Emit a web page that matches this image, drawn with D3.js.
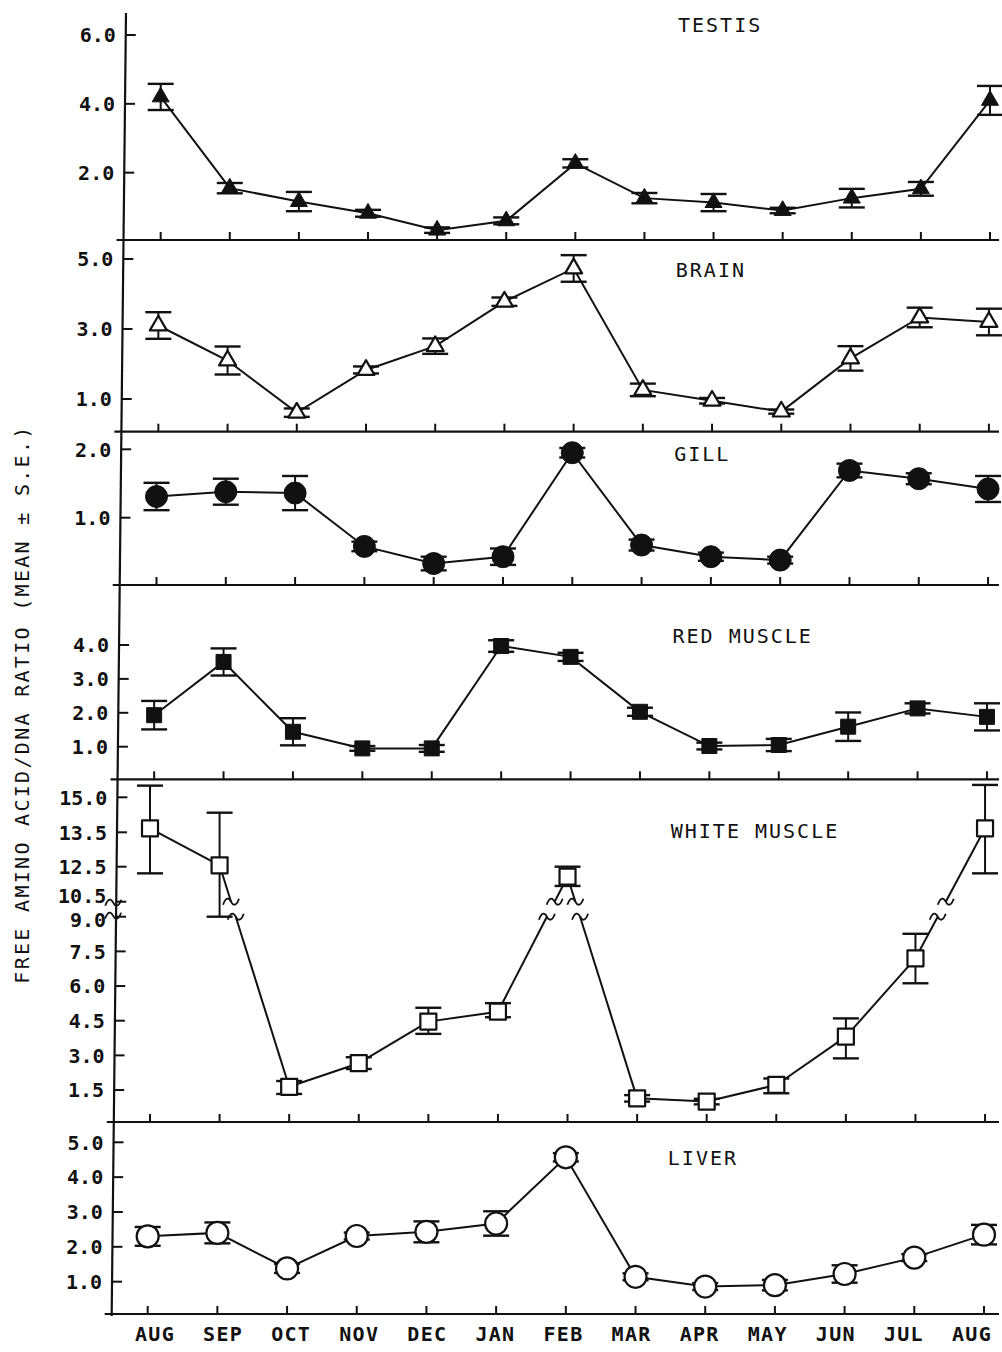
<!DOCTYPE html>
<html><head><meta charset="utf-8">
<script src="https://cdn.jsdelivr.net/npm/d3@7"></script>
<style>body{margin:0;background:#fff}svg{display:block}</style>
</head><body>
<svg id="chart" width="1002" height="1352"></svg>
<script>
// ---------- DATA ----------
const months = ["AUG","SEP","OCT","NOV","DEC","JAN","FEB","MAR","APR","MAY","JUN","JUL","AUG"];

const testisMean = [4.2, 1.55, 1.16, 0.82, 0.33, 0.6, 2.27, 1.26, 1.13, 0.9, 1.26, 1.53, 4.1];
const testisSE   = [0.38, 0.15, 0.28, 0.1, 0.08, 0.1, 0.12, 0.15, 0.25, 0.08, 0.27, 0.2, 0.42];

const brainMean = [3.1, 2.1, 0.61, 1.83, 2.51, 3.78, 4.73, 1.26, 0.95, 0.64, 2.16, 3.33, 3.2];
const brainSE   = [0.38, 0.4, 0.12, 0.1, 0.22, 0.12, 0.38, 0.18, 0.08, 0.06, 0.35, 0.28, 0.38];

const gillMean = [1.31, 1.38, 1.36, 0.58, 0.33, 0.43, 1.95, 0.6, 0.43, 0.38, 1.69, 1.57, 1.42];
const gillSE   = [0.2, 0.19, 0.25, 0.07, 0.1, 0.12, 0.07, 0.08, 0.06, 0.05, 0.1, 0.08, 0.19];

const redMean = [1.93, 3.5, 1.44, 0.95, 0.95, 3.97, 3.65, 2.03, 1.02, 1.05, 1.59, 2.13, 1.88];
const redSE   = [0.42, 0.4, 0.4, 0.07, 0.1, 0.17, 0.12, 0.12, 0.1, 0.18, 0.42, 0.15, 0.4];

const whiteMean = [13.67, 12.54, 1.64, 2.66, 4.46, 4.89, 11.93, 1.14, 1.0, 1.72, 3.81, 7.2, 13.67];
const whiteLow  = [12.12, 9.0, 1.33, 2.41, 3.93, 4.65, 11.4, 1.0, 0.88, 1.36, 2.87, 6.12, 12.12];
const whiteHigh = [15.5, 14.34, 1.89, 2.92, 5.06, 5.26, 12.5, 1.28, 1.12, 2.0, 4.6, 8.26, 15.53];

const liverMean = [2.30, 2.40, 1.38, 2.31, 2.43, 2.67, 4.57, 1.14, 0.86, 0.9, 1.22, 1.69, 2.35];
const liverSE   = [0.27, 0.3, 0.13, 0.1, 0.3, 0.35, 0.12, 0.1, 0.1, 0.15, 0.25, 0.1, 0.28];

const testisTicks = [2, 4, 6];
const brainTicks  = [1, 3, 5];
const gillTicks   = [1, 2];
const redTicks    = [1, 2, 3, 4];
const whiteTicks  = [1.5, 3, 4.5, 6, 7.5, 9, 10.5, 12.5, 13.5, 15];
const liverTicks  = [1, 2, 3, 4, 5];

const yAxisTitle = "FREE AMINO ACID/DNA RATIO (MEAN \u00B1 S.E.)";

// ---------- LAYOUT ----------
const panels = [
  {title:"TESTIS", mean:testisMean, se:testisSE, ticks:testisTicks, axisY:240, domain:[0,6], range:[241.5,35], marker:"tri", filled:true, titleY:32},
  {title:"BRAIN", mean:brainMean, se:brainSE, ticks:brainTicks, axisY:431.7, domain:[0,5], range:[434,259], marker:"tri", filled:false, titleY:277},
  {title:"GILL", mean:gillMean, se:gillSE, ticks:gillTicks, axisY:585, domain:[0,2], range:[586.1,449.3], marker:"circle", filled:true, titleY:461},
  {title:"RED MUSCLE", mean:redMean, se:redSE, ticks:redTicks, axisY:779.3, domain:[0,4], range:[780.6,645], marker:"square", filled:true, titleY:643},
  {title:"WHITE MUSCLE", mean:whiteMean, low:whiteLow, high:whiteHigh, ticks:whiteTicks, axisY:1122,
    domain:[0,9,10.5,12.5,13.5,15], range:[1124.7,916.7,901.7,866.7,832.3,797.3], marker:"square", filled:false, titleY:838, broken:true},
  {title:"LIVER", mean:liverMean, se:liverSE, ticks:liverTicks, axisY:1314, domain:[0,5], range:[1316.5,1142.3], marker:"circle", filled:false, titleY:1165}
];
// small vertical nudges of crowded tick labels at the axis break
const labelNudge = {"10.5": -6, "9.0": 3};

const ink = "#111";
const svg = d3.select("#chart");
const fmt = d3.format(".1f");
const mono = "'DejaVu Sans Mono', 'Liberation Mono', monospace";

// slight skew of the scanned figure
const xAxisAt = y => 126 - 0.011 * (y - 13);
const xStartAt = y => 160.7 - 0.0121 * (y - 238);
const xEndAt = y => 990 - 0.0056 * (y - 238);

// vertical axis line
svg.append("line").attr("x1", xAxisAt(13)).attr("y1", 13).attr("x2", xAxisAt(1316)).attr("y2", 1316)
  .attr("stroke", ink).attr("stroke-width", 2.2);

function squiggle(g, x, y) {
  g.append("path")
    .attr("d", `M${x-8},${y+3} C${x-5},${y-5} ${x-2},${y-4} ${x},${y} S${x+5},${y+5} ${x+8},${y-3}`)
    .attr("fill", "none").attr("stroke", ink).attr("stroke-width", 1.8);
}

panels.forEach(p => {
  const g = svg.append("g");
  const x = d3.scalePoint().domain(d3.range(months.length)).range([xStartAt(p.axisY), xEndAt(p.axisY)]);
  const y = d3.scaleLinear().domain(p.domain).range(p.range);

  // bottom axis line
  g.append("line").attr("x1", xAxisAt(p.axisY) - 7).attr("x2", 999)
    .attr("y1", p.axisY).attr("y2", p.axisY).attr("stroke", ink).attr("stroke-width", 2.2);
  // month ticks (inward)
  g.selectAll(".xt").data(d3.range(months.length)).join("line")
    .attr("x1", d => x(d)).attr("x2", d => x(d))
    .attr("y1", p.axisY).attr("y2", p.axisY - 8)
    .attr("stroke", ink).attr("stroke-width", 2);

  // y ticks
  p.ticks.forEach(t => {
    const ty = y(t), ax = xAxisAt(ty);
    g.append("line").attr("x1", ax).attr("x2", ax + 10).attr("y1", ty).attr("y2", ty)
      .attr("stroke", ink).attr("stroke-width", 2);
    g.append("text").attr("x", ax - 10).attr("y", ty + (labelNudge[fmt(t)] || 0)).attr("dy", "0.36em")
      .attr("text-anchor", "end").attr("font-family", mono).attr("font-size", 20)
      .attr("font-weight", "bold").attr("letter-spacing", 0).attr("fill", ink)
      .text(fmt(t));
  });

  // title
  g.append("text").attr("x", 678 - 0.009 * (p.titleY - 32)).attr("y", p.titleY)
    .attr("font-family", mono).attr("font-size", 20).attr("letter-spacing", 2)
    .attr("fill", ink).text(p.title);

  const idx = d3.range(p.mean.length);
  const lo = i => p.low ? p.low[i] : p.mean[i] - p.se[i];
  const hi = i => p.high ? p.high[i] : p.mean[i] + p.se[i];

  // error bars
  const cap = 26;
  idx.forEach(i => {
    const cx = x(i), y1 = y(hi(i)), y2 = y(lo(i));
    g.append("line").attr("x1", cx).attr("x2", cx).attr("y1", y1).attr("y2", y2)
      .attr("stroke", ink).attr("stroke-width", 2);
    [y1, y2].forEach(yy => g.append("line").attr("x1", cx - cap/2).attr("x2", cx + cap/2)
      .attr("y1", yy).attr("y2", yy).attr("stroke", ink).attr("stroke-width", 2.4));
  });

  // connecting line
  if (!p.broken) {
    g.append("path").datum(idx)
      .attr("d", d3.line().x(i => x(i)).y(i => y(p.mean[i])))
      .attr("fill", "none").attr("stroke", ink).attr("stroke-width", 2);
  } else {
    const bTop = y(10.5), bBot = y(9.0);
    // axis break marks
    squiggle(g, xAxisAt(bTop) - 3, bTop + 1);
    squiggle(g, xAxisAt(bBot) - 3, bBot - 1);
    for (let i = 0; i < idx.length - 1; i++) {
      const x1 = x(i), y1 = y(p.mean[i]), x2 = x(i + 1), y2 = y(p.mean[i + 1]);
      if (Math.min(y1, y2) < bTop && Math.max(y1, y2) > bBot) {
        const at = yy => x1 + (x2 - x1) * (yy - y1) / (y2 - y1);
        const up = y1 < y2 ? [x1, y1] : [x2, y2];
        const dn = y1 < y2 ? [x2, y2] : [x1, y1];
        const xt = at(bTop), xb = at(bBot);
        g.append("line").attr("x1", up[0]).attr("y1", up[1]).attr("x2", xt).attr("y2", bTop)
          .attr("stroke", ink).attr("stroke-width", 2);
        g.append("line").attr("x1", xb).attr("y1", bBot).attr("x2", dn[0]).attr("y2", dn[1])
          .attr("stroke", ink).attr("stroke-width", 2);
        squiggle(g, xt, bTop);
        squiggle(g, xb, bBot);
      } else {
        g.append("line").attr("x1", x1).attr("y1", y1).attr("x2", x2).attr("y2", y2)
          .attr("stroke", ink).attr("stroke-width", 2);
      }
    }
  }

  // markers
  const sym = p.marker === "tri" ? d3.symbolTriangle : p.marker === "square" ? d3.symbolSquare : d3.symbolCircle;
  const size = p.marker === "tri" ? 125 : p.marker === "square" ? (p.filled ? 225 : 256) : Math.PI * 11 * 11;
  g.selectAll(".m").data(idx).join("path")
    .attr("transform", i => `translate(${x(i)},${y(p.mean[i])})`)
    .attr("d", d3.symbol(sym, size))
    .attr("fill", p.filled ? ink : "#fff")
    .attr("stroke", ink).attr("stroke-width", p.filled ? 1 : 2.2)
    .attr("stroke-linejoin", "round");
});

// month labels
const xl = d3.scalePoint().domain(d3.range(months.length)).range([155, 972]);
svg.selectAll(".ml").data(months).join("text")
  .attr("x", (d, i) => xl(i)).attr("y", 1341).attr("text-anchor", "middle")
  .attr("font-family", mono).attr("font-size", 20).attr("font-weight", "bold").attr("letter-spacing", 1.3)
  .attr("fill", ink).text(d => d);

// y axis title
svg.append("text").attr("transform", "translate(29,704) rotate(-90)")
  .attr("text-anchor", "middle").attr("font-family", mono).attr("font-size", 20)
  .attr("letter-spacing", 2.3).attr("fill", ink).text(yAxisTitle);
</script>
</body></html>
